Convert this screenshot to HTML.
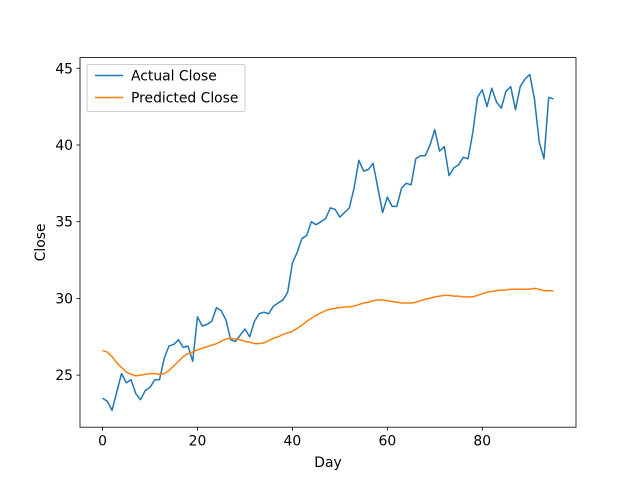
<!DOCTYPE html>
<html><head><meta charset="utf-8"><style>
body{margin:0;background:#fff}
svg{display:block;font-family:"DejaVu Sans","Liberation Sans",sans-serif}
</style></head><body>
<svg id="chart" width="640" height="480">
<rect width="640" height="480" fill="#fff"/>
<g id="plot"></g>
</svg>
<script>
const days = Array.from({length:96},(_, i)=>i);
const actualClose = [23.5,23.3,22.7,23.9,25.1,24.5,24.7,23.8,23.4,24.0,24.2,24.7,24.7,26.1,26.9,27.0,27.3,26.8,26.9,25.9,28.8,28.2,28.3,28.5,29.4,29.2,28.6,27.3,27.2,27.6,28.0,27.5,28.5,29.0,29.1,29.0,29.5,29.7,29.9,30.4,32.3,33.0,33.9,34.1,35.0,34.8,35.0,35.2,35.9,35.8,35.3,35.6,35.9,37.2,39.0,38.3,38.4,38.8,37.2,35.6,36.6,36.0,36.0,37.2,37.5,37.4,39.1,39.3,39.3,40.0,41.0,39.6,39.9,38.0,38.5,38.7,39.2,39.1,40.8,43.1,43.6,42.5,43.7,42.8,42.4,43.5,43.8,42.3,43.8,44.3,44.6,43.0,40.2,39.1,43.1,43.0];
const predictedClose = [26.6,26.5,26.2,25.8,25.5,25.2,25.05,24.95,25.0,25.05,25.1,25.1,25.05,25.1,25.3,25.6,25.9,26.2,26.4,26.5,26.65,26.75,26.85,26.95,27.05,27.2,27.35,27.4,27.35,27.3,27.2,27.15,27.05,27.05,27.1,27.25,27.4,27.5,27.65,27.75,27.85,28.05,28.25,28.5,28.7,28.9,29.05,29.2,29.3,29.35,29.4,29.45,29.45,29.5,29.6,29.7,29.75,29.85,29.9,29.9,29.85,29.8,29.75,29.7,29.7,29.7,29.75,29.85,29.95,30.0,30.1,30.15,30.2,30.2,30.15,30.15,30.1,30.1,30.1,30.2,30.3,30.4,30.45,30.5,30.55,30.55,30.6,30.6,30.6,30.6,30.6,30.65,30.6,30.5,30.5,30.5];
const xTicks = [0,20,40,60,80];
const yTicks = [25,30,35,40,45];

const L=80,R=576,T=57.6,B=427.2,FS=13.9;
const all=actualClose.concat(predictedClose);
const ymin=Math.min(...all),ymax=Math.max(...all),ypad=(ymax-ymin)*0.05;
const xmin=0,xmax=days.length-1,xpad=(xmax-xmin)*0.05;
const sx=v=>L+(v-(xmin-xpad))/((xmax+xpad)-(xmin-xpad))*(R-L);
const sy=v=>B-(v-(ymin-ypad))/((ymax+ypad)-(ymin-ypad))*(B-T);
const NS='http://www.w3.org/2000/svg';
const g=document.getElementById('plot');
function mk(t,a,p){const e=document.createElementNS(NS,t);for(const k in a)e.setAttribute(k,a[k]);(p||g).appendChild(e);return e;}

const s1=mk('polyline',{points:days.map((d,i)=>sx(d)+','+sy(actualClose[i])).join(' '),fill:'none',stroke:'#1f77b4','stroke-width':1.5,'stroke-linejoin':'round'});


const s2=mk('polyline',{points:days.map((d,i)=>sx(d)+','+sy(predictedClose[i])).join(' '),fill:'none',stroke:'#ff7f0e','stroke-width':1.5,'stroke-linejoin':'round'});



const frame=mk('rect',{x:L,y:T,width:R-L,height:B-T,fill:'none',stroke:'#000','stroke-width':0.8});



xTicks.forEach(t=>{
  const x=sx(t);
  const tk=mk('line',{x1:x,x2:x,y1:B,y2:B+3.5,stroke:'#000','stroke-width':0.8});
  
  
  const tx=mk('text',{x:x,y:B+18.5,'text-anchor':'middle','font-size':FS});
  tx.textContent=t;
  
  
});
yTicks.forEach(t=>{
  const y=sy(t);
  const tk=mk('line',{x1:L-3.5,x2:L,y1:y,y2:y,stroke:'#000','stroke-width':0.8});
  
  
  const tx=mk('text',{x:L-7,y:y+5,'text-anchor':'end','font-size':FS});
  tx.textContent=t;
  
  
});
const xl=mk('text',{x:(L+R)/2,y:467,'text-anchor':'middle','font-size':FS});
xl.textContent='Day';


const yl=mk('text',{x:45,y:(T+B)/2,'text-anchor':'middle','font-size':FS,transform:'rotate(-90 45 '+((T+B)/2)+')'});
yl.textContent='Close';



const lg=mk('g',{});


mk('rect',{x:87,y:64.5,width:158,height:47,rx:2,fill:'#fff','fill-opacity':0.8,stroke:'#ccc','stroke-width':1},lg);
[['Actual Close','#1f77b4',75.5],['Predicted Close','#ff7f0e',97.5]].forEach(([n,c,y])=>{
  const e=mk('g',{},lg);
  
  
  mk('line',{x1:95,x2:123,y1:y,y2:y,stroke:c,'stroke-width':1.5},e);
  const t=mk('text',{x:131,y:y+5,'font-size':FS},e);
  t.textContent=n;
});
</script>
</body></html>
